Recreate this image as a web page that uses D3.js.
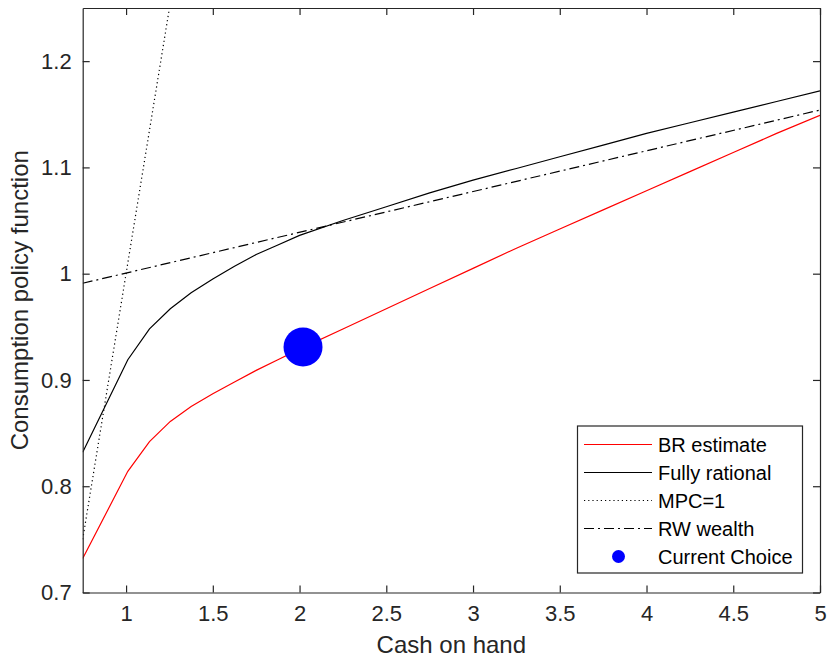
<!DOCTYPE html>
<html>
<head>
<meta charset="utf-8">
<script src="https://cdn.jsdelivr.net/npm/d3@7"></script>
<style>
  body { margin: 0; background: #fff; }
  svg { font-family: "Liberation Sans", Arial, sans-serif; }
</style>
</head>
<body>
<svg id="chart" width="828" height="661"></svg>
<script>
// data
var cashX = [0.75, 1.01, 1.135, 1.255, 1.375, 1.5, 1.625, 1.75, 1.875, 2.0, 2.25, 2.5, 2.75, 3.0,
             3.25, 3.5, 3.75, 4.0, 4.25, 4.5, 4.75, 5.0];
var fullyRational = [0.832, 0.919, 0.948, 0.967, 0.982, 0.995, 1.007, 1.018, 1.027, 1.036, 1.050, 1.063, 1.076, 1.088,
                     1.099, 1.110, 1.121, 1.132, 1.142, 1.152, 1.162, 1.172];
var brEstimate = [0.732, 0.814, 0.842, 0.861, 0.875, 0.887, 0.898, 0.909, 0.919, 0.929, 0.948, 0.967, 0.986, 1.005,
                  1.024, 1.042, 1.060, 1.078, 1.096, 1.114, 1.132, 1.149];
var mpcX = [0.75, 1.3];
var mpcY = [0.75, 1.3];
var rwX = [0.75, 5.0];
var rwY = [0.991, 1.154];
var choice = [{x: 2.02, y: 0.931}];
var xTicks = [1, 1.5, 2, 2.5, 3, 3.5, 4, 4.5, 5];
var yTicks = [0.7, 0.8, 0.9, 1.0, 1.1, 1.2];
var legendItems = ["BR estimate", "Fully rational", "MPC=1", "RW wealth", "Current Choice"];

var axisCol = "#262626";
var L = 82.7, R = 820, T = 8, B = 592.5;

var svg = d3.select("#chart");
var x = d3.scaleLinear().domain([0.75, 5]).range([L, R]);
var y = d3.scaleLinear().domain([0.7, 1.25]).range([B, T]);

svg.append("defs").append("clipPath").attr("id", "clip")
    .append("rect").attr("x", L).attr("y", T).attr("width", R - L).attr("height", B - T);

function zip(xs, ys) {
    var out = [];
    for (var i = 0; i < xs.length; i++) out.push({x: xs[i], y: ys[i]});
    return out;
}
var line = d3.line().x(function(d) { return x(d.x); }).y(function(d) { return y(d.y); });

var plot = svg.append("g").attr("clip-path", "url(#clip)");
plot.append("path").datum(zip(mpcX, mpcY)).attr("d", line)
    .attr("fill", "none").attr("stroke", "#000").attr("stroke-width", 1.2).attr("stroke-dasharray", "1.2,3");
plot.append("path").datum(zip(rwX, rwY)).attr("d", line)
    .attr("fill", "none").attr("stroke", "#000").attr("stroke-width", 1.2).attr("stroke-dasharray", "10,4,2,4");
plot.append("path").datum(zip(cashX, fullyRational)).attr("d", line)
    .attr("fill", "none").attr("stroke", "#000").attr("stroke-width", 1.2);
plot.append("path").datum(zip(cashX, brEstimate)).attr("d", line)
    .attr("fill", "none").attr("stroke", "#ff0000").attr("stroke-width", 1.2);
plot.selectAll("circle.choice").data(choice).enter().append("circle")
    .attr("class", "choice")
    .attr("cx", function(d) { return x(d.x); })
    .attr("cy", function(d) { return y(d.y); })
    .attr("r", 19.5).attr("fill", "#0000ff");

// axes (box on, ticks inside)
function styleAxis(g) {
    g.select(".domain").attr("stroke", axisCol).attr("stroke-width", 1.2);
    g.selectAll(".tick line").attr("stroke", axisCol).attr("stroke-width", 1.2);
    g.selectAll(".tick text").attr("fill", axisCol).attr("font-size", 22).attr("font-family", "Liberation Sans, Arial, sans-serif");
}
var fmt = function(d) { return d3.format("")(+d.toFixed(2)); };
svg.append("g").attr("transform", "translate(0," + B + ")")
    .call(d3.axisBottom(x).tickValues(xTicks).tickSize(-7).tickSizeOuter(0).tickPadding(13).tickFormat(fmt))
    .call(styleAxis);
svg.append("g").attr("transform", "translate(0," + T + ")")
    .call(d3.axisTop(x).tickValues(xTicks).tickSize(-7).tickSizeOuter(0).tickFormat(""))
    .call(styleAxis);
svg.append("g").attr("transform", "translate(" + L + ",0)")
    .call(d3.axisLeft(y).tickValues(yTicks).tickSize(-7).tickSizeOuter(0).tickPadding(11).tickFormat(fmt))
    .call(styleAxis);
svg.append("g").attr("transform", "translate(" + R + ",0)")
    .call(d3.axisRight(y).tickValues(yTicks).tickSize(-7).tickSizeOuter(0).tickFormat(""))
    .call(styleAxis);

// axis labels
svg.append("text").attr("x", (L + R) / 2).attr("y", 653).attr("text-anchor", "middle")
    .attr("font-size", 24).attr("fill", axisCol).text("Cash on hand");
svg.append("text").attr("transform", "translate(28," + (T + B) / 2 + ") rotate(-90)")
    .attr("text-anchor", "middle").attr("font-size", 24).attr("fill", axisCol)
    .text("Consumption policy function");

// legend
var lg = svg.append("g");
lg.append("rect").attr("x", 577.5).attr("y", 426).attr("width", 225).attr("height", 147)
    .attr("fill", "#fff").attr("stroke", axisCol).attr("stroke-width", 1.2);
var styles = [
    {stroke: "#ff0000", dash: null},
    {stroke: "#000", dash: null},
    {stroke: "#000", dash: "1.2,3"},
    {stroke: "#000", dash: "10,4,2,4"},
    null
];
legendItems.forEach(function(name, i) {
    var ly = 444.5 + i * 28;
    var s = styles[i];
    if (s) {
        var p = lg.append("line").attr("x1", 584).attr("x2", 652).attr("y1", ly).attr("y2", ly)
            .attr("stroke", s.stroke).attr("stroke-width", 1.2);
        if (s.dash) p.attr("stroke-dasharray", s.dash);
    } else {
        lg.append("circle").attr("cx", 618.5).attr("cy", ly).attr("r", 6.5).attr("fill", "#0000ff");
    }
    lg.append("text").attr("x", 658).attr("y", ly).attr("dy", "0.35em")
        .attr("font-size", 20).attr("fill", "#000").text(name);
});
</script>
</body>
</html>
